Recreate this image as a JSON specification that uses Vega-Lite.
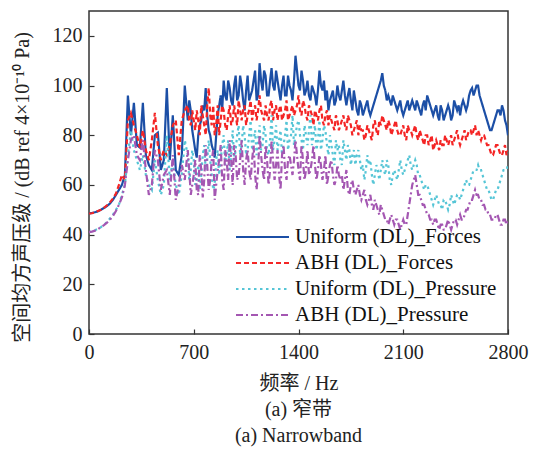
{
  "$schema": "https://vega.github.io/schema/vega-lite/v6.json",
  "width": 419,
  "height": 323,
  "autosize": {"type": "none"},
  "padding": {"left": 89, "top": 11, "right": 29, "bottom": 120},
  "background": "white",
  "title": {
    "text": ["(a) 窄带", "(a) Narrowband"],
    "orient": "bottom",
    "anchor": "middle",
    "font": "Liberation Serif, Noto Sans CJK SC, serif",
    "fontSize": 20,
    "fontWeight": "normal",
    "color": "#222",
    "lineHeight": 26,
    "offset": 7
  },
  "data": {
    "values": [
      {"f":0,"uf":48.5,"af":48.5,"up":41,"ap":41},
      {"f":20,"uf":48.7,"af":48.6,"up":41.3,"ap":41.2},
      {"f":40,"uf":49,"af":49,"up":41.8,"ap":41.6},
      {"f":60,"uf":49.4,"af":49.5,"up":42.3,"ap":42.2},
      {"f":80,"uf":50,"af":50,"up":43,"ap":43},
      {"f":100,"uf":50.7,"af":50.8,"up":44,"ap":43.8},
      {"f":120,"uf":51.5,"af":51.8,"up":45,"ap":44.8},
      {"f":140,"uf":52.5,"af":53,"up":46.5,"ap":46},
      {"f":160,"uf":54,"af":54.5,"up":48,"ap":47.5},
      {"f":180,"uf":56,"af":56.5,"up":50,"ap":49.5},
      {"f":200,"uf":58,"af":60,"up":52,"ap":52},
      {"f":220,"uf":60,"af":64,"up":56,"ap":55},
      {"f":240,"uf":64,"af":62,"up":60,"ap":60},
      {"f":260,"uf":96,"af":86,"up":72,"ap":70},
      {"f":280,"uf":80,"af":89,"up":82,"ap":78},
      {"f":300,"uf":93,"af":84,"up":74,"ap":80},
      {"f":320,"uf":76,"af":80,"up":70,"ap":72},
      {"f":340,"uf":75,"af":75,"up":66,"ap":70},
      {"f":360,"uf":93,"af":82,"up":72,"ap":78},
      {"f":380,"uf":72,"af":74,"up":64,"ap":66},
      {"f":400,"uf":68,"af":70,"up":60,"ap":56},
      {"f":420,"uf":66,"af":78,"up":58,"ap":60},
      {"f":440,"uf":80,"af":89,"up":70,"ap":74},
      {"f":460,"uf":81,"af":76,"up":62,"ap":70},
      {"f":480,"uf":66,"af":70,"up":56,"ap":58},
      {"f":500,"uf":70,"af":74,"up":60,"ap":64},
      {"f":520,"uf":99,"af":72,"up":80,"ap":66},
      {"f":540,"uf":70,"af":76,"up":62,"ap":56},
      {"f":560,"uf":88,"af":84,"up":70,"ap":72},
      {"f":580,"uf":66,"af":86,"up":60,"ap":54},
      {"f":600,"uf":64,"af":72,"up":56,"ap":60},
      {"f":620,"uf":72,"af":86,"up":64,"ap":68},
      {"f":640,"uf":100,"af":90,"up":78,"ap":62},
      {"f":660,"uf":86,"af":92,"up":72,"ap":74},
      {"f":670,"uf":94,"af":86,"up":62,"ap":66},
      {"f":680,"uf":90,"af":84,"up":66,"ap":56},
      {"f":690,"uf":82,"af":90,"up":74,"ap":60},
      {"f":700,"uf":78,"af":86,"up":70,"ap":64},
      {"f":710,"uf":74,"af":82,"up":60,"ap":70},
      {"f":720,"uf":71,"af":90,"up":62,"ap":58},
      {"f":730,"uf":80,"af":86,"up":68,"ap":56},
      {"f":740,"uf":84,"af":80,"up":58,"ap":72},
      {"f":750,"uf":86,"af":92,"up":64,"ap":66},
      {"f":760,"uf":92,"af":88,"up":72,"ap":55},
      {"f":770,"uf":90,"af":84,"up":76,"ap":62},
      {"f":780,"uf":99,"af":80,"up":66,"ap":76},
      {"f":790,"uf":88,"af":92,"up":70,"ap":68},
      {"f":800,"uf":82,"af":99,"up":78,"ap":58},
      {"f":810,"uf":80,"af":88,"up":70,"ap":62},
      {"f":820,"uf":76,"af":84,"up":64,"ap":70},
      {"f":830,"uf":74,"af":92,"up":58,"ap":74},
      {"f":840,"uf":71,"af":80,"up":60,"ap":54},
      {"f":850,"uf":80,"af":84,"up":70,"ap":60},
      {"f":860,"uf":88,"af":92,"up":74,"ap":66},
      {"f":870,"uf":92,"af":80,"up":64,"ap":70},
      {"f":880,"uf":96,"af":86,"up":70,"ap":76},
      {"f":890,"uf":90,"af":92,"up":76,"ap":62},
      {"f":900,"uf":102,"af":90,"up":80,"ap":58},
      {"f":910,"uf":96,"af":84,"up":68,"ap":74},
      {"f":920,"uf":94,"af":82,"up":72,"ap":70},
      {"f":930,"uf":102,"af":88,"up":78,"ap":62},
      {"f":940,"uf":99,"af":92,"up":66,"ap":78},
      {"f":950,"uf":94,"af":84,"up":72,"ap":70},
      {"f":960,"uf":92,"af":86,"up":82,"ap":60},
      {"f":970,"uf":100,"af":92,"up":70,"ap":76},
      {"f":980,"uf":104,"af":88,"up":74,"ap":72},
      {"f":990,"uf":94,"af":84,"up":80,"ap":62},
      {"f":1000,"uf":96,"af":94,"up":84,"ap":64},
      {"f":1010,"uf":104,"af":90,"up":72,"ap":70},
      {"f":1020,"uf":100,"af":86,"up":76,"ap":78},
      {"f":1030,"uf":94,"af":90,"up":84,"ap":66},
      {"f":1040,"uf":90,"af":92,"up":80,"ap":60},
      {"f":1050,"uf":98,"af":84,"up":72,"ap":70},
      {"f":1060,"uf":104,"af":88,"up":74,"ap":74},
      {"f":1070,"uf":94,"af":90,"up":80,"ap":66},
      {"f":1080,"uf":96,"af":94,"up":86,"ap":62},
      {"f":1090,"uf":98,"af":86,"up":74,"ap":70},
      {"f":1100,"uf":102,"af":90,"up":78,"ap":76},
      {"f":1110,"uf":106,"af":92,"up":82,"ap":64},
      {"f":1120,"uf":94,"af":86,"up":72,"ap":58},
      {"f":1130,"uf":96,"af":90,"up":78,"ap":66},
      {"f":1140,"uf":109,"af":96,"up":84,"ap":80},
      {"f":1150,"uf":102,"af":90,"up":74,"ap":72},
      {"f":1160,"uf":98,"af":88,"up":76,"ap":66},
      {"f":1170,"uf":106,"af":86,"up":84,"ap":62},
      {"f":1180,"uf":104,"af":92,"up":80,"ap":76},
      {"f":1190,"uf":96,"af":88,"up":74,"ap":70},
      {"f":1200,"uf":96,"af":86,"up":72,"ap":60},
      {"f":1210,"uf":102,"af":92,"up":78,"ap":66},
      {"f":1220,"uf":107,"af":94,"up":88,"ap":78},
      {"f":1230,"uf":100,"af":86,"up":74,"ap":70},
      {"f":1240,"uf":98,"af":90,"up":78,"ap":62},
      {"f":1250,"uf":106,"af":92,"up":84,"ap":68},
      {"f":1260,"uf":102,"af":86,"up":74,"ap":74},
      {"f":1270,"uf":98,"af":90,"up":78,"ap":64},
      {"f":1280,"uf":94,"af":92,"up":82,"ap":58},
      {"f":1290,"uf":100,"af":86,"up":72,"ap":72},
      {"f":1300,"uf":104,"af":88,"up":76,"ap":76},
      {"f":1310,"uf":96,"af":90,"up":80,"ap":66},
      {"f":1320,"uf":96,"af":94,"up":86,"ap":62},
      {"f":1330,"uf":104,"af":86,"up":74,"ap":70},
      {"f":1340,"uf":100,"af":88,"up":78,"ap":72},
      {"f":1350,"uf":98,"af":90,"up":80,"ap":68},
      {"f":1360,"uf":94,"af":92,"up":88,"ap":64},
      {"f":1370,"uf":102,"af":88,"up":76,"ap":70},
      {"f":1380,"uf":112,"af":90,"up":80,"ap":78},
      {"f":1390,"uf":106,"af":92,"up":84,"ap":72},
      {"f":1400,"uf":100,"af":96,"up":86,"ap":66},
      {"f":1410,"uf":98,"af":90,"up":80,"ap":62},
      {"f":1420,"uf":106,"af":88,"up":78,"ap":76},
      {"f":1430,"uf":102,"af":94,"up":74,"ap":70},
      {"f":1440,"uf":96,"af":92,"up":84,"ap":62},
      {"f":1450,"uf":98,"af":88,"up":80,"ap":66},
      {"f":1460,"uf":102,"af":86,"up":76,"ap":74},
      {"f":1470,"uf":96,"af":92,"up":82,"ap":64},
      {"f":1480,"uf":94,"af":90,"up":88,"ap":66},
      {"f":1490,"uf":100,"af":88,"up":76,"ap":70},
      {"f":1500,"uf":98,"af":84,"up":80,"ap":76},
      {"f":1510,"uf":96,"af":90,"up":84,"ap":68},
      {"f":1520,"uf":92,"af":88,"up":74,"ap":62},
      {"f":1530,"uf":98,"af":86,"up":78,"ap":66},
      {"f":1540,"uf":106,"af":90,"up":86,"ap":72},
      {"f":1550,"uf":100,"af":92,"up":74,"ap":68},
      {"f":1560,"uf":98,"af":86,"up":78,"ap":62},
      {"f":1570,"uf":102,"af":84,"up":84,"ap":66},
      {"f":1580,"uf":94,"af":88,"up":82,"ap":72},
      {"f":1590,"uf":98,"af":90,"up":76,"ap":60},
      {"f":1600,"uf":90,"af":84,"up":72,"ap":64},
      {"f":1610,"uf":94,"af":88,"up":80,"ap":68},
      {"f":1620,"uf":96,"af":86,"up":76,"ap":70},
      {"f":1630,"uf":98,"af":84,"up":72,"ap":64},
      {"f":1640,"uf":92,"af":82,"up":68,"ap":60},
      {"f":1650,"uf":94,"af":88,"up":78,"ap":62},
      {"f":1660,"uf":100,"af":86,"up":74,"ap":68},
      {"f":1670,"uf":96,"af":82,"up":76,"ap":64},
      {"f":1680,"uf":94,"af":84,"up":70,"ap":62},
      {"f":1690,"uf":98,"af":86,"up":68,"ap":64},
      {"f":1700,"uf":102,"af":88,"up":78,"ap":58},
      {"f":1710,"uf":96,"af":84,"up":74,"ap":62},
      {"f":1720,"uf":92,"af":82,"up":70,"ap":66},
      {"f":1730,"uf":96,"af":88,"up":76,"ap":58},
      {"f":1740,"uf":99,"af":86,"up":74,"ap":56},
      {"f":1750,"uf":94,"af":84,"up":68,"ap":60},
      {"f":1760,"uf":90,"af":80,"up":72,"ap":62},
      {"f":1770,"uf":98,"af":82,"up":74,"ap":58},
      {"f":1780,"uf":94,"af":84,"up":68,"ap":56},
      {"f":1790,"uf":90,"af":86,"up":72,"ap":58},
      {"f":1800,"uf":88,"af":80,"up":74,"ap":60},
      {"f":1810,"uf":94,"af":84,"up":70,"ap":56},
      {"f":1820,"uf":92,"af":82,"up":66,"ap":54},
      {"f":1830,"uf":88,"af":82,"up":68,"ap":56},
      {"f":1840,"uf":90,"af":78,"up":62,"ap":58},
      {"f":1850,"uf":92,"af":80,"up":66,"ap":54},
      {"f":1860,"uf":94,"af":84,"up":72,"ap":52},
      {"f":1870,"uf":90,"af":82,"up":68,"ap":54},
      {"f":1880,"uf":88,"af":80,"up":70,"ap":56},
      {"f":1890,"uf":90,"af":78,"up":64,"ap":52},
      {"f":1900,"uf":92,"af":84,"up":60,"ap":50},
      {"f":1910,"uf":94,"af":86,"up":64,"ap":54},
      {"f":1920,"uf":96,"af":82,"up":68,"ap":52},
      {"f":1930,"uf":98,"af":80,"up":66,"ap":50},
      {"f":1940,"uf":100,"af":86,"up":62,"ap":48},
      {"f":1950,"uf":102,"af":84,"up":66,"ap":52},
      {"f":1960,"uf":105,"af":88,"up":70,"ap":50},
      {"f":1970,"uf":100,"af":86,"up":66,"ap":48},
      {"f":1980,"uf":98,"af":84,"up":64,"ap":46},
      {"f":1990,"uf":94,"af":82,"up":70,"ap":46},
      {"f":2000,"uf":96,"af":86,"up":68,"ap":44},
      {"f":2010,"uf":94,"af":84,"up":62,"ap":46},
      {"f":2020,"uf":92,"af":80,"up":60,"ap":48},
      {"f":2030,"uf":96,"af":82,"up":64,"ap":46},
      {"f":2040,"uf":94,"af":84,"up":66,"ap":44},
      {"f":2050,"uf":92,"af":86,"up":64,"ap":46},
      {"f":2060,"uf":90,"af":82,"up":62,"ap":46},
      {"f":2070,"uf":92,"af":80,"up":66,"ap":44},
      {"f":2080,"uf":94,"af":80,"up":70,"ap":42},
      {"f":2090,"uf":90,"af":82,"up":66,"ap":44},
      {"f":2100,"uf":88,"af":84,"up":64,"ap":46},
      {"f":2110,"uf":90,"af":80,"up":66,"ap":44},
      {"f":2120,"uf":92,"af":78,"up":68,"ap":44},
      {"f":2130,"uf":94,"af":84,"up":70,"ap":48},
      {"f":2140,"uf":90,"af":82,"up":72,"ap":52},
      {"f":2150,"uf":92,"af":82,"up":68,"ap":56},
      {"f":2160,"uf":94,"af":80,"up":66,"ap":60},
      {"f":2170,"uf":92,"af":82,"up":68,"ap":62},
      {"f":2180,"uf":90,"af":84,"up":70,"ap":64},
      {"f":2190,"uf":94,"af":80,"up":68,"ap":60},
      {"f":2200,"uf":92,"af":78,"up":64,"ap":56},
      {"f":2210,"uf":90,"af":82,"up":64,"ap":56},
      {"f":2220,"uf":88,"af":80,"up":62,"ap":54},
      {"f":2230,"uf":92,"af":78,"up":60,"ap":52},
      {"f":2240,"uf":94,"af":76,"up":58,"ap":52},
      {"f":2250,"uf":90,"af":80,"up":60,"ap":50},
      {"f":2260,"uf":96,"af":80,"up":60,"ap":48},
      {"f":2270,"uf":94,"af":76,"up":58,"ap":48},
      {"f":2280,"uf":92,"af":78,"up":56,"ap":46},
      {"f":2290,"uf":90,"af":80,"up":54,"ap":46},
      {"f":2300,"uf":88,"af":74,"up":52,"ap":44},
      {"f":2310,"uf":90,"af":76,"up":54,"ap":46},
      {"f":2320,"uf":92,"af":78,"up":56,"ap":46},
      {"f":2330,"uf":88,"af":76,"up":54,"ap":44},
      {"f":2340,"uf":86,"af":74,"up":52,"ap":42},
      {"f":2350,"uf":92,"af":78,"up":52,"ap":44},
      {"f":2360,"uf":90,"af":76,"up":50,"ap":44},
      {"f":2370,"uf":86,"af":76,"up":54,"ap":42},
      {"f":2380,"uf":88,"af":80,"up":54,"ap":42},
      {"f":2390,"uf":90,"af":78,"up":52,"ap":44},
      {"f":2400,"uf":92,"af":76,"up":50,"ap":46},
      {"f":2410,"uf":90,"af":78,"up":52,"ap":44},
      {"f":2420,"uf":86,"af":80,"up":56,"ap":42},
      {"f":2430,"uf":88,"af":76,"up":54,"ap":44},
      {"f":2440,"uf":94,"af":78,"up":52,"ap":46},
      {"f":2450,"uf":92,"af":80,"up":54,"ap":46},
      {"f":2460,"uf":90,"af":82,"up":56,"ap":44},
      {"f":2470,"uf":92,"af":78,"up":56,"ap":46},
      {"f":2480,"uf":88,"af":76,"up":54,"ap":48},
      {"f":2490,"uf":92,"af":78,"up":56,"ap":46},
      {"f":2500,"uf":94,"af":80,"up":58,"ap":46},
      {"f":2510,"uf":92,"af":82,"up":60,"ap":48},
      {"f":2520,"uf":90,"af":78,"up":62,"ap":50},
      {"f":2530,"uf":92,"af":80,"up":60,"ap":50},
      {"f":2540,"uf":96,"af":82,"up":60,"ap":52},
      {"f":2550,"uf":98,"af":82,"up":62,"ap":54},
      {"f":2560,"uf":99,"af":80,"up":64,"ap":54},
      {"f":2570,"uf":96,"af":82,"up":66,"ap":56},
      {"f":2580,"uf":98,"af":84,"up":66,"ap":58},
      {"f":2590,"uf":100,"af":80,"up":66,"ap":56},
      {"f":2600,"uf":100,"af":82,"up":68,"ap":56},
      {"f":2610,"uf":96,"af":80,"up":66,"ap":54},
      {"f":2620,"uf":94,"af":78,"up":66,"ap":54},
      {"f":2630,"uf":92,"af":80,"up":64,"ap":52},
      {"f":2640,"uf":90,"af":80,"up":62,"ap":52},
      {"f":2650,"uf":88,"af":78,"up":60,"ap":50},
      {"f":2660,"uf":86,"af":76,"up":58,"ap":50},
      {"f":2670,"uf":84,"af":76,"up":58,"ap":48},
      {"f":2680,"uf":82,"af":74,"up":56,"ap":48},
      {"f":2690,"uf":82,"af":72,"up":54,"ap":46},
      {"f":2700,"uf":84,"af":72,"up":54,"ap":46},
      {"f":2710,"uf":86,"af":74,"up":56,"ap":46},
      {"f":2720,"uf":88,"af":76,"up":58,"ap":48},
      {"f":2730,"uf":90,"af":76,"up":58,"ap":48},
      {"f":2740,"uf":90,"af":74,"up":60,"ap":46},
      {"f":2750,"uf":88,"af":72,"up":62,"ap":44},
      {"f":2760,"uf":92,"af":72,"up":64,"ap":44},
      {"f":2770,"uf":90,"af":74,"up":66,"ap":46},
      {"f":2780,"uf":86,"af":76,"up":66,"ap":46},
      {"f":2790,"uf":84,"af":72,"up":66,"ap":44},
      {"f":2800,"uf":80,"af":74,"up":68,"ap":46}
    ]
  },
  "transform": [
    {"fold": ["uf", "af", "up", "ap"], "as": ["series", "level"]}
  ],
  "mark": {"type": "line", "strokeWidth": 2.2, "clip": true},
  "encoding": {
    "x": {
      "field": "f",
      "type": "quantitative",
      "scale": {"domain": [0, 2800], "nice": false},
      "axis": {
        "values": [0, 700, 1400, 2100, 2800],
        "format": "d",
        "title": "频率 / Hz",
        "titleY": 49,
        "titleBaseline": "middle",
        "titleFont": "Liberation Serif, Noto Sans CJK SC, serif",
        "titleFontSize": 20,
        "titleFontWeight": "normal",
        "titleColor": "#222",
        "labelFont": "Liberation Serif, serif",
        "labelFontSize": 20,
        "labelColor": "#222",
        "labelPadding": 13,
        "labelFlush": false,
        "tickSize": -5,
        "tickColor": "#333",
        "tickWidth": 1.2,
        "domain": false,
        "grid": false
      }
    },
    "y": {
      "field": "level",
      "type": "quantitative",
      "scale": {"domain": [0, 130], "nice": false},
      "axis": {
        "values": [0, 20, 40, 60, 80, 100, 120],
        "format": "d",
        "title": "空间均方声压级 / (dB ref 4×10⁻¹⁰ Pa)",
        "titleX": -67,
        "titleY": 176,
        "titleBaseline": "middle",
        "titleAlign": "center",
        "titleFont": "Liberation Serif, Noto Sans CJK SC, serif",
        "titleFontSize": 20,
        "titleFontWeight": "normal",
        "titleColor": "#222",
        "labelFont": "Liberation Serif, serif",
        "labelFontSize": 20,
        "labelColor": "#222",
        "labelPadding": 12,
        "labelFlush": false,
        "tickSize": -5,
        "tickColor": "#333",
        "tickWidth": 1.2,
        "domain": false,
        "grid": false
      }
    },
    "color": {
      "field": "series",
      "type": "nominal",
      "scale": {
        "domain": ["uf", "af", "up", "ap"],
        "range": ["#1c4fa6", "#f42525", "#55c5d6", "#a457b2"]
      },
      "legend": {
        "orient": "none",
        "legendX": 146,
        "legendY": 218,
        "title": null,
        "symbolType": "stroke",
        "symbolSize": 2809,
        "symbolStrokeWidth": 2,
        "clipHeight": 16,
        "rowPadding": 5,
        "labelOffset": 5,
        "labelFont": "Liberation Serif, serif",
        "labelFontSize": 21,
        "labelColor": "#111",
        "labelLimit": 300,
        "labelExpr": "datum.label == 'uf' ? 'Uniform (DL)_Forces' : datum.label == 'af' ? 'ABH (DL)_Forces' : datum.label == 'up' ? 'Uniform (DL)_Pressure' : 'ABH (DL)_Pressure'"
      }
    },
    "strokeDash": {
      "field": "series",
      "type": "nominal",
      "scale": {
        "domain": ["uf", "af", "up", "ap"],
        "range": [[1, 0], [5, 3], [2.5, 3.5], [7, 3, 2, 3]]
      },
      "legend": {
        "orient": "none",
        "legendX": 146,
        "legendY": 218,
        "title": null,
        "symbolType": "stroke",
        "symbolSize": 2809,
        "symbolStrokeWidth": 2,
        "clipHeight": 16,
        "rowPadding": 5,
        "labelOffset": 5,
        "labelFont": "Liberation Serif, serif",
        "labelFontSize": 21,
        "labelColor": "#111",
        "labelLimit": 300,
        "labelExpr": "datum.label == 'uf' ? 'Uniform (DL)_Forces' : datum.label == 'af' ? 'ABH (DL)_Forces' : datum.label == 'up' ? 'Uniform (DL)_Pressure' : 'ABH (DL)_Pressure'"
      }
    }
  },
  "config": {
    "view": {"stroke": "#333", "strokeWidth": 1.5},
    "font": "Liberation Serif"
  }
}
